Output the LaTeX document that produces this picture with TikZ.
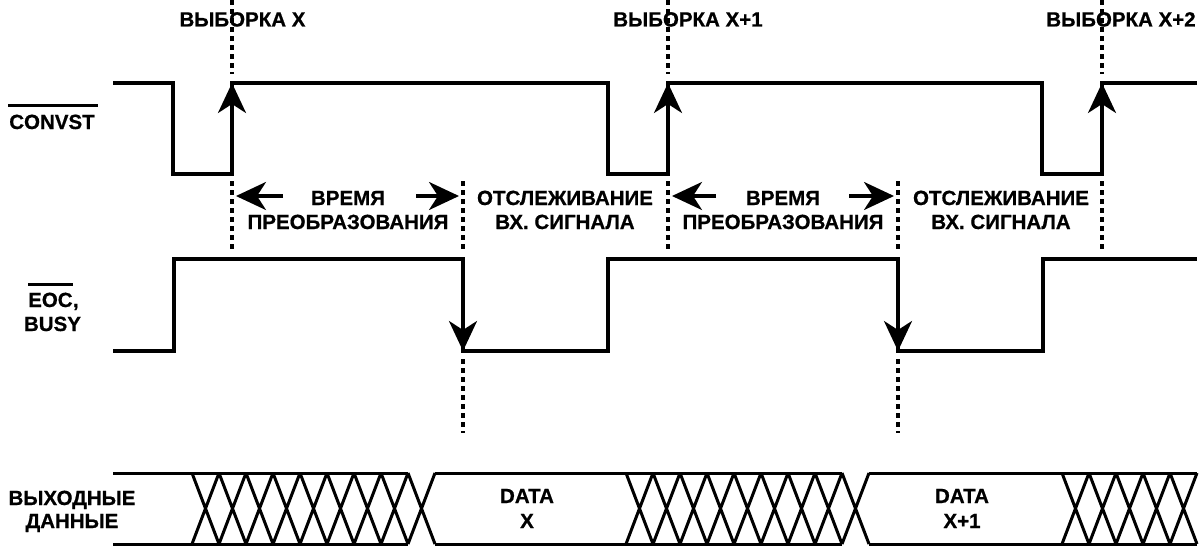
\documentclass[tikz,border=0pt]{standalone}
\usepackage{fontspec}
\setmainfont{Liberation Sans}[BoldFeatures={FakeBold=0.7}]
\usetikzlibrary{arrows.meta}
\begin{document}
\begin{tikzpicture}[x=1pt,y=-1pt,
  sig/.style={line width=3.4pt},
  bus/.style={line width=3pt},
  guide/.style={line width=3.3pt, dash pattern=on 5pt off 4pt},
  tip/.style={-{Stealth[length=30pt,width=28pt,inset=9pt]}},
  lbl/.style={font=\fontsize{20.5}{24}\selectfont\bfseries, inner sep=0pt, anchor=base},
  bar/.style={line width=2.8pt}]
\fill[white] (0,0) rectangle (1200,546);
\useasboundingbox (0,0) rectangle (1200,546);

% ---- top labels
\node[lbl] (s1) at (242.5,26.5) {ВЫБОРКА X};
\node[lbl] (s2) at (688,26.5) {ВЫБОРКА X+1};
\node[lbl] (s3) at (1121,26.5) {ВЫБОРКА X+2};

% ---- signal names
\node[lbl] (cv) at (52,129) {CONVST};
\draw[bar] ([xshift=-1pt,yshift=9pt]cv.north west) -- ([xshift=3pt,yshift=9pt]cv.north east);
\node[lbl, anchor=base west] (eoc) at (28,307) {EOC};
\node[lbl, anchor=base west] (cm) at (eoc.base east) {,};
\draw[bar] ([yshift=8pt]eoc.north west) -- ([yshift=8pt]eoc.north east);
\node[lbl] (busy) at (52.5,331) {BUSY};
\node[lbl] (od1) at (72,505) {ВЫХОДНЫЕ};
\node[lbl] (od2) at (72,528) {ДАННЫЕ};

% ---- interval labels
\node[lbl] (t1a) at (348,205) {ВРЕМЯ};
\node[lbl] (t1b) at (348,229) {ПРЕОБРАЗОВАНИЯ};
\node[lbl] (a1a) at (565,205) {ОТСЛЕЖИВАНИЕ};
\node[lbl] (a1b) at (565,229) {ВХ. СИГНАЛА};
\node[lbl] (t2a) at (783,205) {ВРЕМЯ};
\node[lbl] (t2b) at (783,229) {ПРЕОБРАЗОВАНИЯ};
\node[lbl] (a2a) at (1001,205) {ОТСЛЕЖИВАНИЕ};
\node[lbl] (a2b) at (1001,229) {ВХ. СИГНАЛА};

% ---- guide lines
\foreach \x in {232,668,1102}{
  \draw[guide] (\x,0) -- (\x,74);
  \draw[guide] (\x,181) -- (\x,252);
}
\foreach \x in {463,898}{
  \draw[guide] (\x,181) -- (\x,252);
  \draw[guide] (\x,359) -- (\x,433);
}

% ---- CONVST
\draw[sig] (113,83) -- (173,83) -- (173,174) -- (232,174) -- (232,83) -- (608,83)
  -- (608,174) -- (668,174) -- (668,83) -- (1042,83) -- (1042,174) -- (1102,174)
  -- (1102,83) -- (1197,83);
\foreach \x in {232,668,1102}{
  \coordinate (lo\x) at (\x,174);
  \coordinate (hi\x) at (\x,83);
  \draw[sig,tip] (lo\x) -- (hi\x);
}

% ---- EOC / BUSY
\draw[sig] (113,351) -- (174,351) -- (174,259) -- (463,259) -- (463,351) -- (608,351)
  -- (608,259) -- (898,259) -- (898,351) -- (1043,351) -- (1043,259) -- (1197,259);
\foreach \x in {463,898}{
  \coordinate (eh\x) at (\x,259);
  \coordinate (el\x) at (\x,351);
  \draw[sig,tip] (eh\x) -- (el\x);
}

% ---- interval arrows
\coordinate (p1) at (283,196); \coordinate (q1) at (236,196);
\coordinate (p2) at (416,196); \coordinate (q2) at (459,196);
\coordinate (p3) at (716,196); \coordinate (q3) at (672,196);
\coordinate (p4) at (849,196); \coordinate (q4) at (894,196);
\foreach \i in {1,...,4}{ \draw[sig,tip] (p\i) -- (q\i); }

% ---- data bus
\draw[bus] (113,473) -- (408,473) (113,544) -- (408,544)
           (435,473) -- (842,473) (435,544) -- (842,544)
           (869,473) -- (1197,473) (869,544) -- (1197,544);
\foreach \i in {0,...,8}{
  \draw[bus] (192+27*\i,473) -- (219+27*\i,544) (192+27*\i,544) -- (219+27*\i,473);
  \draw[bus] (626+27*\i,473) -- (653+27*\i,544) (626+27*\i,544) -- (653+27*\i,473);
}
\foreach \i in {0,...,4}{
  \draw[bus] (1062+27*\i,473) -- (1089+27*\i,544) (1062+27*\i,544) -- (1089+27*\i,473);
}
\node[lbl] (d1a) at (527,503) {DATA};
\node[lbl] (d1b) at (527,528) {X};
\node[lbl] (d2a) at (962,503) {DATA};
\node[lbl] (d2b) at (962,528) {X+1};
\end{tikzpicture}
\end{document}
